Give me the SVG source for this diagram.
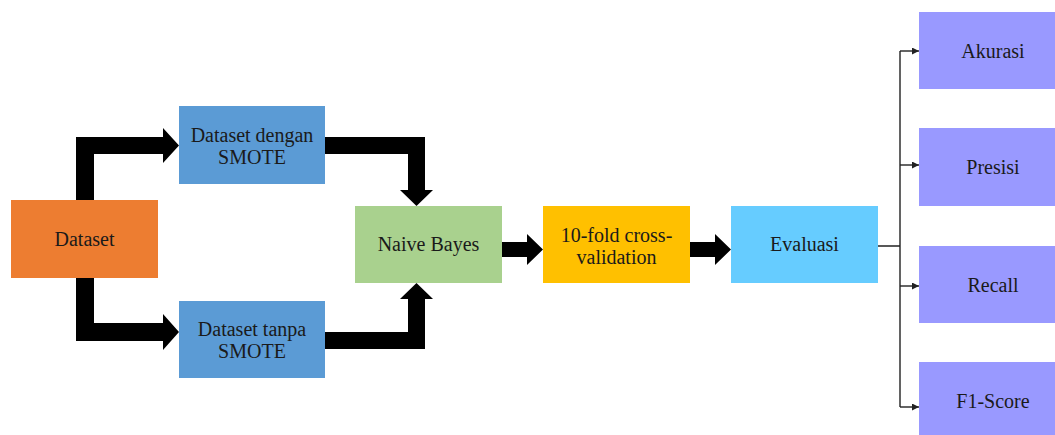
<svg xmlns="http://www.w3.org/2000/svg" width="1055" height="435" viewBox="0 0 1055 435">
  <defs>
    <marker id="tip" viewBox="0 0 10 10" refX="10" refY="5" markerWidth="7" markerHeight="7" markerUnits="userSpaceOnUse" orient="auto">
      <path d="M0,0 L10,5 L0,10 z" fill="#222"/>
    </marker>
  </defs>
  <style>
    text { font-family: 'Liberation Serif', 'Times New Roman', Times, serif; font-size: 20px; fill: #1a1a1a; text-anchor: middle; }
    .fat { fill: #000; }
    .thin { fill: none; stroke: #222; stroke-width: 1.4; }
  </style>
  <rect width="1055" height="435" fill="#fff"/>

  <!-- connectors: thick block arrows between stages, thin fan-out to the metrics -->
  <g id="connectors">
    <polygon class="fat" points="76,200 76,137 163,137 163,128 179,145.5 163,163 163,154 94,154 94,200"/>
    <polygon class="fat" points="76,278 76,341 163,341 163,350 179,332 163,314 163,323 94,323 94,278"/>
    <polygon class="fat" points="325,137 425,137 425,190 433,190 416.5,206 400,190 408,190 408,154 325,154"/>
    <polygon class="fat" points="325,349 425,349 425,299 433,299 416.5,283 400,299 408,299 408,332 325,332"/>
    <polygon class="fat" points="502,242 527,242 527,234 543,249.5 527,265 527,257 502,257"/>
    <polygon class="fat" points="690,242 715,242 715,234 731,249.5 715,265 715,257 690,257"/>
    <path class="thin" d="M878,246 H900 M900,51 V407"/>
    <path class="thin" d="M900,51 H919" marker-end="url(#tip)"/>
    <path class="thin" d="M900,165 H919" marker-end="url(#tip)"/>
    <path class="thin" d="M900,286 H919" marker-end="url(#tip)"/>
    <path class="thin" d="M900,407 H919" marker-end="url(#tip)"/>
  </g>

  <g id="dataset">
    <rect x="11" y="200" width="147" height="78" fill="#ED7D31"/>
    <text x="84.5" y="246">Dataset</text>
  </g>
  <g id="dataset-smote">
    <rect x="179" y="106" width="146" height="78" fill="#5B9BD5"/>
    <text x="252" y="142">Dataset dengan</text>
    <text x="252" y="164">SMOTE</text>
  </g>
  <g id="dataset-no-smote">
    <rect x="179" y="301" width="146" height="77" fill="#5B9BD5"/>
    <text x="252" y="336">Dataset tanpa</text>
    <text x="252" y="358">SMOTE</text>
  </g>
  <g id="naive-bayes">
    <rect x="355" y="206" width="147" height="77" fill="#A9D18E"/>
    <text x="428.5" y="251">Naive Bayes</text>
  </g>
  <g id="cross-validation">
    <rect x="543" y="206" width="147" height="77" fill="#FFC000"/>
    <text x="616.5" y="242">10-fold cross-</text>
    <text x="616.5" y="264">validation</text>
  </g>
  <g id="evaluasi">
    <rect x="731" y="206" width="147" height="77" fill="#66CCFF"/>
    <text x="804.5" y="251">Evaluasi</text>
  </g>
  <g id="akurasi">
    <rect x="919" y="12" width="148" height="77" fill="#9999FF"/>
    <text x="993" y="58">Akurasi</text>
  </g>
  <g id="presisi">
    <rect x="919" y="128" width="148" height="78" fill="#9999FF"/>
    <text x="993" y="174">Presisi</text>
  </g>
  <g id="recall">
    <rect x="919" y="246" width="148" height="77" fill="#9999FF"/>
    <text x="993" y="292">Recall</text>
  </g>
  <g id="f1-score">
    <rect x="919" y="362" width="148" height="77" fill="#9999FF"/>
    <text x="993" y="408">F1-Score</text>
  </g>
</svg>
